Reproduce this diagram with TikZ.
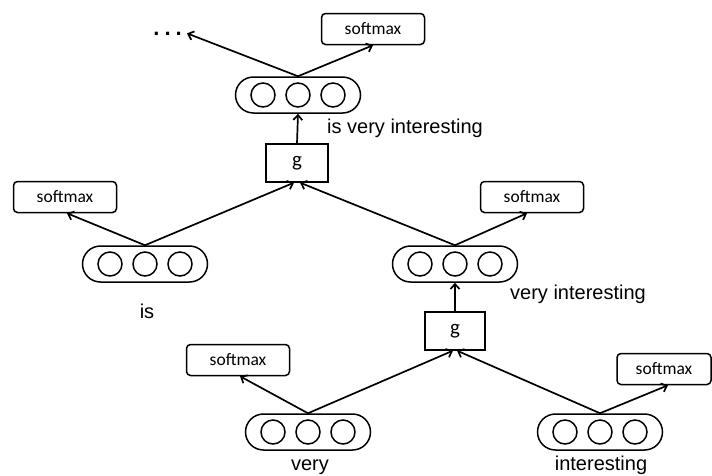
\documentclass[tikz,border=0pt]{standalone}
\usepackage{fontspec}
\setmainfont{Liberation Sans}
\newfontfamily\calfont{Carlito}
\usetikzlibrary{shapes.misc,arrows.meta}
\newcommand\vecunit[3]{%
  \node[pill] (#1) at (#2,#3) {};
  \node[unit] (#1a) at ([xshift=-35pt]#1.center) {};
  \node[unit] (#1b) at (#1.center) {};
  \node[unit] (#1c) at ([xshift=35pt]#1.center) {};
}
\begin{document}
\begin{tikzpicture}[x=1pt,y=-1pt,
  pill/.style={rounded rectangle, draw, line width=1.5pt, minimum width=125pt, minimum height=36pt, inner sep=0pt},
  unit/.style={circle, draw, line width=1.5pt, minimum size=24pt, inner sep=0pt},
  smbox/.style={draw, rounded corners=4pt, line width=1.5pt, minimum width=103pt, minimum height=31pt, inner sep=0pt, font=\calfont\fontsize{17.5}{17.5}\selectfont},
  gbox/.style={draw, line width=1.3pt, minimum width=62pt, minimum height=38pt, inner sep=0pt, font=\calfont\fontsize{21}{21}\selectfont},
  lbl/.style={font=\fontsize{20}{20}\selectfont, inner sep=0pt},
  arr/.style={line width=1.7pt, -{Straight Barb[length=5pt,width=9pt]}}
]
\useasboundingbox (0,0) rectangle (712,475);
% vectors
\vecunit{T}{298}{95}
\vecunit{L}{145}{264}
\vecunit{R}{455}{264}
\vecunit{V}{308}{432}
\vecunit{I}{600}{432}
% g boxes
\node[gbox] (g1) at (297,163) {g};
\node[gbox, minimum width=60pt] (g2) at (455,331) {g};
% softmax boxes
\node[smbox] (s0) at (373,29) {softmax};
\node[smbox] (sL) at (65,197) {softmax};
\node[smbox] (sR) at (532,197) {softmax};
\node[smbox] (sV) at (238,360) {softmax};
\node[smbox, minimum width=94pt] (sI) at (664,369) {softmax};
% dots
\node[font=\bfseries\fontsize{22}{22}\selectfont, inner sep=0pt, anchor=base east] (dots) at (182,35) {.\kern5pt.\kern5pt.};
% labels
\node[lbl, anchor=base west] (lT) at (327,133) {is very interesting};
\node[lbl, anchor=base] (lL) at (147,318) {is};
\node[lbl, anchor=base west] (lR) at (510,299) {very interesting};
\node[lbl, anchor=base] (lV) at (310,470) {very};
\node[lbl, anchor=base] (lI) at (601,470) {interesting};
% connectors
\draw[arr] (T.north) -- ([xshift=5pt]dots.east);
\draw[arr] (T.north) -- (s0.south);
\draw[arr] (g1.north) -- (T.south);
\draw[arr] (L.north) -- ([xshift=2pt]sL.south);
\draw[arr] (L.north) -- ([xshift=-3pt]g1.south);
\draw[arr] (R.north) -- ([xshift=-5pt]sR.south);
\draw[arr] (R.north) -- ([xshift=3pt]g1.south);
\draw[arr] (g2.north) -- (R.south);
\draw[arr] (V.north) -- ([xshift=2pt]sV.south);
\draw[arr] (V.north) -- ([xshift=-2pt]g2.south);
\draw[arr] (I.north) -- ([xshift=2pt]g2.south);
\draw[arr] (I.north) -- ([xshift=4pt]sI.south);
\end{tikzpicture}
\end{document}
